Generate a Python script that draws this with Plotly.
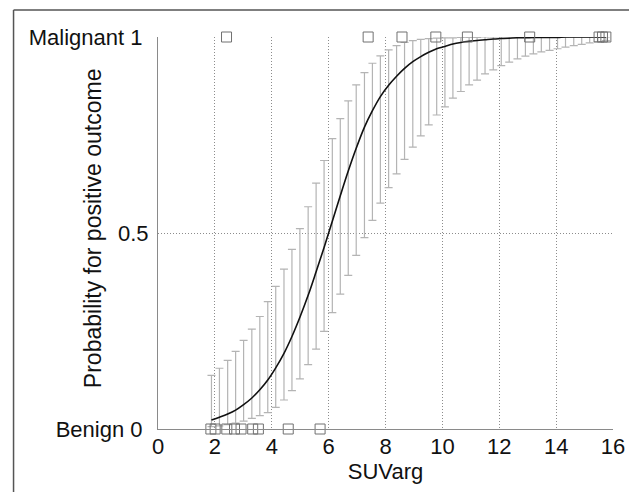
import plotly.graph_objects as go

# ---- data ----
bar_x = [1.88, 2.16, 2.45, 2.73, 3.01, 3.30, 3.58, 3.86, 4.14, 4.43, 4.71, 4.99, 5.28,
         5.56, 5.84, 6.13, 6.41, 6.69, 6.97, 7.26, 7.54, 7.82, 8.11, 8.39, 8.67, 8.96,
         9.24, 9.52, 9.80, 10.09, 10.37, 10.65, 10.94, 11.22, 11.50, 11.79, 12.07, 12.35,
         12.64, 12.92, 13.20, 13.48, 13.77, 14.05, 14.33, 14.62, 14.90, 15.18, 15.47, 15.75]
prob = [0.023, 0.030, 0.038, 0.048, 0.062, 0.079, 0.100, 0.125, 0.156, 0.193, 0.236, 0.285,
        0.341, 0.401, 0.463, 0.530, 0.595, 0.658, 0.716, 0.770, 0.812, 0.848, 0.877, 0.900,
        0.920, 0.937, 0.950, 0.961, 0.970, 0.976, 0.982, 0.986, 0.989, 0.991, 0.993, 0.995,
        0.996, 0.997, 0.998, 0.998, 0.999, 0.999, 0.999, 0.999, 1.000, 1.000, 1.000, 1.000,
        1.000, 1.000]
ci_upper = [0.137, 0.155, 0.175, 0.198, 0.226, 0.255, 0.287, 0.325, 0.364, 0.408, 0.458, 0.511,
            0.567, 0.627, 0.685, 0.741, 0.792, 0.837, 0.878, 0.909, 0.933, 0.952, 0.967, 0.978,
            0.986, 0.991, 0.994, 0.996, 0.997, 0.998, 0.998, 0.999, 0.999, 0.999, 1.000, 1.000,
            1.000, 1.000, 1.000, 1.000, 1.000, 1.000, 1.000, 1.000, 1.000, 1.000, 1.000, 1.000,
            1.000, 1.000]
ci_lower = [0.006, 0.008, 0.011, 0.015, 0.020, 0.027, 0.034, 0.042, 0.055, 0.074, 0.098, 0.128,
            0.164, 0.204, 0.249, 0.297, 0.344, 0.392, 0.443, 0.488, 0.532, 0.576, 0.616, 0.651,
            0.688, 0.719, 0.748, 0.776, 0.801, 0.822, 0.844, 0.861, 0.878, 0.890, 0.906, 0.916,
            0.927, 0.936, 0.944, 0.951, 0.957, 0.962, 0.966, 0.970, 0.974, 0.978, 0.981, 0.985,
            0.988, 0.991]
benign_x = [1.86, 2.01, 2.42, 2.69, 2.92, 3.33, 3.53, 4.58, 5.70]
malignant_x = [2.41, 7.39, 8.58, 9.77, 10.88, 13.07, 15.51, 15.63, 15.75]

x_ticks = [0, 2, 4, 6, 8, 10, 12, 14, 16]
y_ticks = [0, 0.5, 1]
y_ticktext = ["Benign 0\u00a0", "0.5", "Malignant 1\u00a0"]

FONT = "Liberation Sans, Arial, sans-serif"

err_plus = [u - p for u, p in zip(ci_upper, prob)]
err_minus = [p - l for p, l in zip(prob, ci_lower)]

fig = go.Figure()
fig.add_trace(go.Scatter(
    x=bar_x, y=prob, mode="markers",
    marker=dict(size=1, color="rgba(0,0,0,0)"),
    error_y=dict(type="data", symmetric=False, array=err_plus, arrayminus=err_minus,
                 color="#b4b4b4", thickness=1.2, width=4),
    cliponaxis=False, showlegend=False, hoverinfo="skip"))
fig.add_trace(go.Scatter(
    x=bar_x, y=prob, mode="lines", line=dict(color="#111111", width=1.6, shape="spline"),
    showlegend=False))
fig.add_trace(go.Scatter(
    x=benign_x, y=[0] * len(benign_x), mode="markers",
    marker=dict(symbol="square-open", size=10, color="#707070", line=dict(width=1)),
    cliponaxis=False, showlegend=False))
fig.add_trace(go.Scatter(
    x=malignant_x, y=[1] * len(malignant_x), mode="markers",
    marker=dict(symbol="square-open", size=10, color="#707070", line=dict(width=1)),
    cliponaxis=False, showlegend=False))

# the page places the figure 8px from the window's top-left corner
OFF = 8
W, H = 637 - OFF, 492 - OFF
L, R, T, B = 158 - OFF, 16, 37 - OFF, 63
pw, ph = W - L - R, H - T - B

def px2paper_x(px):
    return (px - OFF - L) / pw

def py2paper_y(py):
    return (H - B - (py - OFF)) / ph

GRID = dict(showgrid=True, gridcolor="#8c8c8c", griddash="1px,2px", gridwidth=1,
            showline=True, linecolor="#8a8a8a", linewidth=1, zeroline=False, ticks="")

fig.update_layout(
    width=W, height=H,
    margin=dict(l=L, r=R, t=T, b=B, pad=0),
    paper_bgcolor="white", plot_bgcolor="white",
    font=dict(family=FONT, size=22, color="#111111"),
    xaxis=dict(range=[0, 16], tickvals=x_ticks, **GRID,
               tickfont=dict(size=22), ticklabelstandoff=-2,
               title=dict(text="SUVarg", font=dict(size=22), standoff=0)),
    yaxis=dict(range=[0, 1], tickvals=y_ticks, ticktext=y_ticktext, **GRID,
               tickfont=dict(size=22), ticklabelstandoff=4),
    annotations=[dict(text="Probability for positive outcome", textangle=-90,
                      xref="paper", yref="paper", x=px2paper_x(92), y=py2paper_y(228),
                      xanchor="center", yanchor="middle", showarrow=False,
                      font=dict(size=23, family=FONT, color="#111111"))],
    shapes=[
        dict(type="line", xref="paper", yref="paper", x0=px2paper_x(11), x1=px2paper_x(640),
             y0=py2paper_y(10), y1=py2paper_y(10), line=dict(color="#555555", width=1.5)),
        dict(type="line", xref="paper", yref="paper", x0=px2paper_x(11), x1=px2paper_x(11),
             y0=py2paper_y(10), y1=py2paper_y(495), line=dict(color="#555555", width=1.5)),
    ],
)

fig.write_html("out.html")
